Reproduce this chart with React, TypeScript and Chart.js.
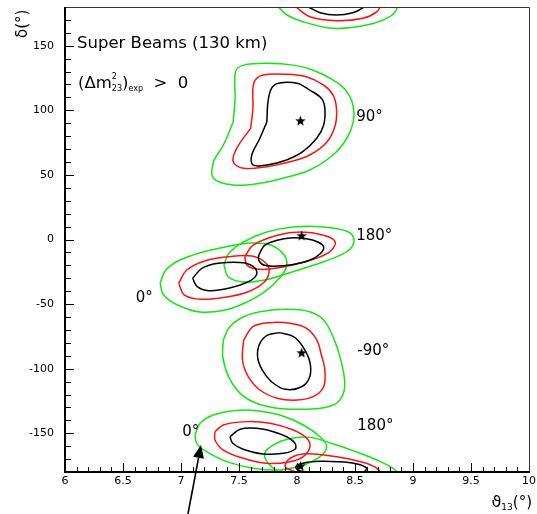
import React, { useEffect, useRef } from 'react';
import { Chart, registerables } from 'chart.js';

Chart.register(...registerables);

// ---- axes ----
const xRange = [6, 10];
const yRange = [-180, 180];
const xTickValues = [6, 6.5, 7, 7.5, 8, 8.5, 9, 9.5, 10];
const yTickValues = [-150, -100, -50, 0, 50, 100, 150];
const xMinorStep = 0.1;
const yMinorStep = 10;

// ---- contours [theta13 (deg), delta (deg)] ----
// delta = 90 true value
const green90 = [[7.45,91],[7.466,109],[7.47,130],[7.54,135],[7.74,136.4],[7.97,135],[8.14,131],[8.31,123.5],[8.43,114.4],[8.485,103],[8.485,91],[8.43,78.4],[8.31,65.4],[8.11,53.8],[7.88,47.4],[7.68,43.5],[7.45,42.2],[7.28,47.4],[7.28,60],[7.365,73]];
const red90 = [[7.6,86],[7.62,101.6],[7.62,117],[7.64,123.5],[7.71,127.4],[7.91,127.9],[8.08,126],[8.23,119.6],[8.31,112],[8.34,101.6],[8.33,88.6],[8.26,75.7],[8.11,65.4],[7.94,60.2],[7.74,56.4],[7.54,55.1],[7.45,60.2],[7.48,70.6]];
const black90 = [[7.74,91],[7.75,106.7],[7.78,117],[7.84,121],[8.0,121],[8.11,115.7],[8.21,109.3],[8.24,101.6],[8.23,88.6],[8.17,78.4],[8.05,68],[7.91,61.6],[7.74,57.7],[7.62,57.7],[7.61,65.4],[7.68,78.4]];

// delta = 180 true value (near 0)
const green180 = [[7.37,-20],[7.41,-11],[7.54,-1.9],[7.74,5.8],[7.97,9.7],[8.23,9.7],[8.43,6.4],[8.49,0.6],[8.46,-7.1],[8.34,-13.5],[8.14,-20],[7.91,-26.5],[7.71,-31.6],[7.54,-32.9],[7.41,-29]];
const red180 = [[7.55,-13.5],[7.62,-4.5],[7.83,3.3],[8.03,5.8],[8.23,3.3],[8.33,-1.9],[8.28,-9.7],[8.11,-16.1],[7.88,-21.3],[7.68,-23.1],[7.57,-20]];
const black180 = [[7.67,-12.2],[7.72,-4.5],[7.83,-0.6],[7.94,1.2],[8.08,0.6],[8.18,-1.9],[8.23,-5.8],[8.2,-11],[8.11,-16.1],[8.0,-18.7],[7.85,-20.5],[7.72,-20],[7.67,-16.1]];

// delta = 0 clone (near -30)
const green0 = [[6.82,-33.7],[6.87,-23.6],[6.99,-15.9],[7.16,-10.4],[7.38,-5.8],[7.6,-2.7],[7.77,-4.3],[7.89,-12],[7.91,-20.5],[7.85,-29.8],[7.72,-40.6],[7.55,-49.2],[7.38,-54.6],[7.16,-56.1],[6.97,-50.7],[6.85,-43]];
const red0 = [[6.98,-33.9],[7.05,-23.6],[7.21,-16.4],[7.41,-13.3],[7.61,-12.8],[7.72,-17.2],[7.76,-23.6],[7.72,-32.7],[7.58,-40.4],[7.38,-44.7],[7.18,-46.3],[7.03,-43]];
const black0 = [[7.1,-30],[7.18,-22.3],[7.32,-18.4],[7.54,-18],[7.64,-22.3],[7.65,-27.5],[7.58,-32.7],[7.41,-37.8],[7.24,-39.6],[7.14,-36.5]];

// delta = -90 true value
const greenM90 = [[7.365,-77.8],[7.42,-67.5],[7.54,-59.8],[7.68,-55.9],[7.91,-54],[8.11,-55.9],[8.23,-62.3],[8.31,-75.2],[8.37,-90.7],[8.41,-108.8],[8.4,-119.1],[8.34,-126.8],[8.2,-130.7],[8.0,-131.5],[7.83,-130.7],[7.65,-126.8],[7.51,-119.1],[7.41,-106.2],[7.36,-90.7]];
const redM90 = [[7.54,-77.8],[7.62,-67.5],[7.77,-64.4],[7.94,-64.9],[8.08,-68.7],[8.17,-77.8],[8.21,-89.4],[8.24,-101],[8.23,-114],[8.14,-121.7],[8.0,-124.3],[7.83,-122.9],[7.68,-116.5],[7.58,-106.2],[7.53,-93.3]];
const blackM90 = [[7.85,-72.1],[7.97,-75.2],[8.05,-83],[8.11,-94.6],[8.11,-106.2],[8.04,-114],[7.9,-116],[7.78,-110.1],[7.7,-101],[7.66,-90.7],[7.68,-80.4],[7.75,-73.9]];

// delta = 0 clone (near -155)
const greenLow0 = [[7.121,-151.3],[7.164,-142.3],[7.278,-135.9],[7.451,-132.5],[7.653,-132.5],[7.853,-135.9],[8.054,-143.6],[8.198,-152.7],[8.256,-160.4],[8.198,-168.1],[8.054,-174.6],[7.853,-178.4],[7.623,-177.1],[7.394,-172],[7.221,-164.3],[7.135,-157.8]];
const redLow0 = [[7.293,-148.8],[7.365,-143.6],[7.566,-141],[7.767,-142.3],[7.968,-147.5],[8.084,-153.9],[8.112,-160.4],[8.054,-168.1],[7.94,-172],[7.739,-173.3],[7.537,-169.4],[7.365,-163],[7.293,-155.2]];
const blackLow0 = [[7.422,-152.7],[7.509,-146.9],[7.653,-146.2],[7.796,-148.8],[7.911,-152.7],[7.983,-157.8],[7.983,-162.4],[7.882,-165.5],[7.709,-166.1],[7.537,-162.4],[7.446,-157.8]];

// delta = 180 true value wrapping around +-180 (delta given continuously past 180)
const greenWrap = [[7.84,180],[7.91,174],[8.05,168.6],[8.31,163.5],[8.6,166],[8.8,172.5],[8.86,180],[8.72,188],[8.5,196],[8.3,202],[8.1,207],[7.9,205],[7.75,198],[7.72,192],[7.77,185]];
const redWrap = [[7.99,180],[8.11,172.5],[8.34,169.4],[8.57,171.3],[8.69,176.4],[8.71,181],[8.62,186],[8.45,190],[8.25,193],[8.05,194],[7.93,190],[7.9,184]];
const blackWrap = [[8.1,180],[8.2,175.5],[8.34,173.8],[8.48,175.5],[8.57,179.5],[8.6,183],[8.5,186.5],[8.35,188],[8.2,188.3],[8.06,187],[7.99,184],[8.02,181]];

// true values (stars)
const starPoints = [[8.03,92],[8.04,3],[8.04,-87.6],[8.03,-175.3]];

// in-plot labels
const labelTexts = ['90°', '180°', '0°', '-90°', '0°', '180°'];
const labelTheta = [8.51, 8.51, 6.61, 8.52, 7.01, 8.52];
const labelDelta = [95, 2.7, -45.3, -86.3, -149, -144.4];

// arrow annotation (tail -> tip) in data coordinates
const arrowTail = [7.06, -212.5];
const arrowTip = [7.172, -159.1];

const GREEN = '#14e614';
const RED = '#ff1010';
const BLACK = '#000000';
const FONT = '"DejaVu Sans", sans-serif';

function makeStar(size: number) {
  const c = document.createElement('canvas');
  c.width = size;
  c.height = size;
  const g = c.getContext('2d')!;
  g.fillStyle = '#000';
  g.beginPath();
  const cx = size / 2, cy = size / 2 + 0.5;
  for (let i = 0; i < 10; i++) {
    const r = i % 2 === 0 ? size / 2 : size * 0.21;
    const a = -Math.PI / 2 + (i * Math.PI) / 5;
    const px = cx + r * Math.cos(a), py = cy + r * Math.sin(a);
    if (i === 0) g.moveTo(px, py); else g.lineTo(px, py);
  }
  g.closePath();
  g.fill();
  return c;
}

function contour(pts: number[][], color: string, shift = 0) {
  const closed = pts.concat([pts[0]]);
  return {
    data: closed.map(([x, y]) => ({ x, y: y + shift })),
    borderColor: color,
    backgroundColor: color,
    showLine: true,
    pointRadius: 0,
    pointHoverRadius: 0,
    borderWidth: 1.5,
    tension: 0.35,
    fill: false,
  };
}

type Seg = { t: string; size: number; dy?: number; noAdvance?: boolean };
function drawSegs(ctx: CanvasRenderingContext2D, x: number, y: number, segs: Seg[]) {
  let cx = x;
  for (const s of segs) {
    ctx.font = `${s.size}px ${FONT}`;
    ctx.fillText(s.t, cx, y + (s.dy || 0));
    if (!s.noAdvance) cx += ctx.measureText(s.t).width;
  }
  return cx - x;
}
function segsWidth(ctx: CanvasRenderingContext2D, segs: Seg[]) {
  let w = 0;
  for (const s of segs) {
    ctx.font = `${s.size}px ${FONT}`;
    if (!s.noAdvance) w += ctx.measureText(s.t).width;
  }
  return w;
}

const decorPlugin = {
  id: 'decor',
  afterDatasetsDraw(chart: any) {
    const { ctx, chartArea, scales } = chart;
    const { left, right, top, bottom } = chartArea;
    const xs = scales.x, ys = scales.y;
    ctx.save();
    ctx.fillStyle = '#000';
    ctx.strokeStyle = '#000';

    // inside ticks
    ctx.lineWidth = 1;
    ctx.beginPath();
    const nx = Math.round((xRange[1] - xRange[0]) / xMinorStep);
    for (let i = 1; i < nx; i++) {
      const v = xRange[0] + i * xMinorStep;
      const px = Math.round(xs.getPixelForValue(v)) + 0.5;
      const len = i % 5 === 0 ? 9 : 5;
      ctx.moveTo(px, bottom);
      ctx.lineTo(px, bottom - len);
    }
    const ny = Math.round((yRange[1] - yRange[0]) / yMinorStep);
    for (let i = 1; i < ny; i++) {
      const v = yRange[0] + i * yMinorStep;
      const py = Math.round(ys.getPixelForValue(v)) + 0.5;
      const len = v % 50 === 0 ? 9 : 6;
      ctx.moveTo(left, py);
      ctx.lineTo(left + len, py);
    }
    ctx.stroke();

    // frame
    ctx.lineWidth = 1;
    ctx.strokeStyle = '#333';
    ctx.beginPath();
    ctx.moveTo(Math.round(left), Math.round(top) + 0.5);
    ctx.lineTo(Math.round(right) + 0.5, Math.round(top) + 0.5);
    ctx.lineTo(Math.round(right) + 0.5, Math.round(bottom));
    ctx.stroke();
    ctx.strokeStyle = '#000';
    ctx.lineWidth = 2;
    ctx.beginPath();
    ctx.moveTo(Math.round(left), Math.round(top));
    ctx.lineTo(Math.round(left), Math.round(bottom));
    ctx.lineTo(Math.round(right) + 1, Math.round(bottom));
    ctx.stroke();

    // in-plot angle labels
    ctx.textAlign = 'left';
    ctx.textBaseline = 'middle';
    ctx.font = `15px ${FONT}`;
    labelTexts.forEach((t, i) => {
      ctx.fillText(t, xs.getPixelForValue(labelTheta[i]), ys.getPixelForValue(labelDelta[i]));
    });

    // title lines
    ctx.textBaseline = 'alphabetic';
    ctx.font = `16.5px ${FONT}`;
    ctx.fillText('Super Beams (130 km)', left + 12, top + 41);
    drawSegs(ctx, left + 13, top + 81, [
      { t: '(Δm', size: 16.5 },
      { t: '2', size: 8, dy: -9, noAdvance: true },
      { t: '23', size: 8, dy: 3 },
      { t: ')', size: 16.5 },
      { t: 'exp', size: 8, dy: 3 },
      { t: '  >  0', size: 16.5 },
    ]);

    // x axis title
    const xt: Seg[] = [
      { t: 'ϑ', size: 16 },
      { t: '13', size: 9, dy: 3 },
      { t: '(°)', size: 15 },
    ];
    const w = segsWidth(ctx, xt);
    drawSegs(ctx, right + 3 - w, bottom + 35, xt);

    // y axis title (rotated)
    ctx.save();
    ctx.translate(left - 38, top + 31);
    ctx.rotate(-Math.PI / 2);
    ctx.font = `15px ${FONT}`;
    ctx.fillText('δ(°)', 0, 0);
    ctx.restore();

    // arrow
    const tx = xs.getPixelForValue(arrowTail[0]), ty = ys.getPixelForValue(arrowTail[1]);
    const hx = xs.getPixelForValue(arrowTip[0]), hy = ys.getPixelForValue(arrowTip[1]);
    const ang = Math.atan2(hy - ty, hx - tx);
    const hl = 13, hw = 5.5;
    const bx = hx - hl * Math.cos(ang), by = hy - hl * Math.sin(ang);
    ctx.lineWidth = 1.6;
    ctx.beginPath();
    ctx.moveTo(tx, ty);
    ctx.lineTo(bx, by);
    ctx.stroke();
    ctx.beginPath();
    ctx.moveTo(hx, hy);
    ctx.lineTo(bx + hw * Math.sin(ang), by - hw * Math.cos(ang));
    ctx.lineTo(bx - hw * Math.sin(ang), by + hw * Math.cos(ang));
    ctx.closePath();
    ctx.fill();

    ctx.restore();
  },
};

export default function App() {
  const ref = useRef<HTMLCanvasElement>(null);
  useEffect(() => {
    const star = makeStar(11);
    const datasets: any[] = [
      {
        data: starPoints.map(([x, y]) => ({ x, y })),
        pointStyle: star,
        pointRadius: 5,
        pointHoverRadius: 5,
        showLine: false,
      },
      contour(black90, BLACK),
      contour(black180, BLACK),
      contour(black0, BLACK),
      contour(blackM90, BLACK),
      contour(blackLow0, BLACK),
      contour(blackWrap, BLACK),
      contour(blackWrap, BLACK, -360),
      contour(red90, RED),
      contour(red180, RED),
      contour(red0, RED),
      contour(redM90, RED),
      contour(redLow0, RED),
      contour(redWrap, RED),
      contour(redWrap, RED, -360),
      contour(green90, GREEN),
      contour(green180, GREEN),
      contour(green0, GREEN),
      contour(greenM90, GREEN),
      contour(greenLow0, GREEN),
      contour(greenWrap, GREEN),
      contour(greenWrap, GREEN, -360),
    ];
    const chart = new Chart(ref.current!, {
      type: 'scatter',
      data: { datasets },
      plugins: [decorPlugin],
      options: {
        animation: false,
        responsive: true,
        maintainAspectRatio: false,
        layout: { padding: { top: 7, right: 8, left: 0, bottom: 0 } },
        elements: { line: { capBezierPoints: false } },
        plugins: { legend: { display: false }, tooltip: { enabled: false } },
        events: [],
        scales: {
          x: {
            type: 'linear',
            min: xRange[0],
            max: xRange[1],
            grid: { display: false, drawTicks: false },
            border: { display: false },
            afterBuildTicks: (s: any) => { s.ticks = xTickValues.map((v) => ({ value: v })); },
            afterFit: (s: any) => { s.height = 42; s.paddingLeft = 0; s.paddingRight = 0; },
            ticks: {
              padding: 3,
              maxRotation: 0,
              autoSkip: false,
              color: '#000',
              font: { family: FONT, size: 11 },
              callback: (v: any) => (Number.isInteger(v) ? String(v) : Number(v).toFixed(1)),
            },
          },
          y: {
            type: 'linear',
            min: yRange[0],
            max: yRange[1],
            grid: { display: false, drawTicks: false },
            border: { display: false },
            afterBuildTicks: (s: any) => { s.ticks = yTickValues.map((v) => ({ value: v })); },
            afterFit: (s: any) => { s.width = 65; s.paddingTop = 0; s.paddingBottom = 0; },
            ticks: {
              padding: 11,
              autoSkip: false,
              color: '#000',
              font: { family: FONT, size: 11 },
              callback: (v: any) => String(v),
            },
          },
        },
      } as any,
    });
    return () => chart.destroy();
  }, []);
  return (
    <div style={{ position: 'absolute', left: 0, top: 0, width: 537, height: 514, background: '#fff' }}>
      <canvas ref={ref} />
    </div>
  );
}
